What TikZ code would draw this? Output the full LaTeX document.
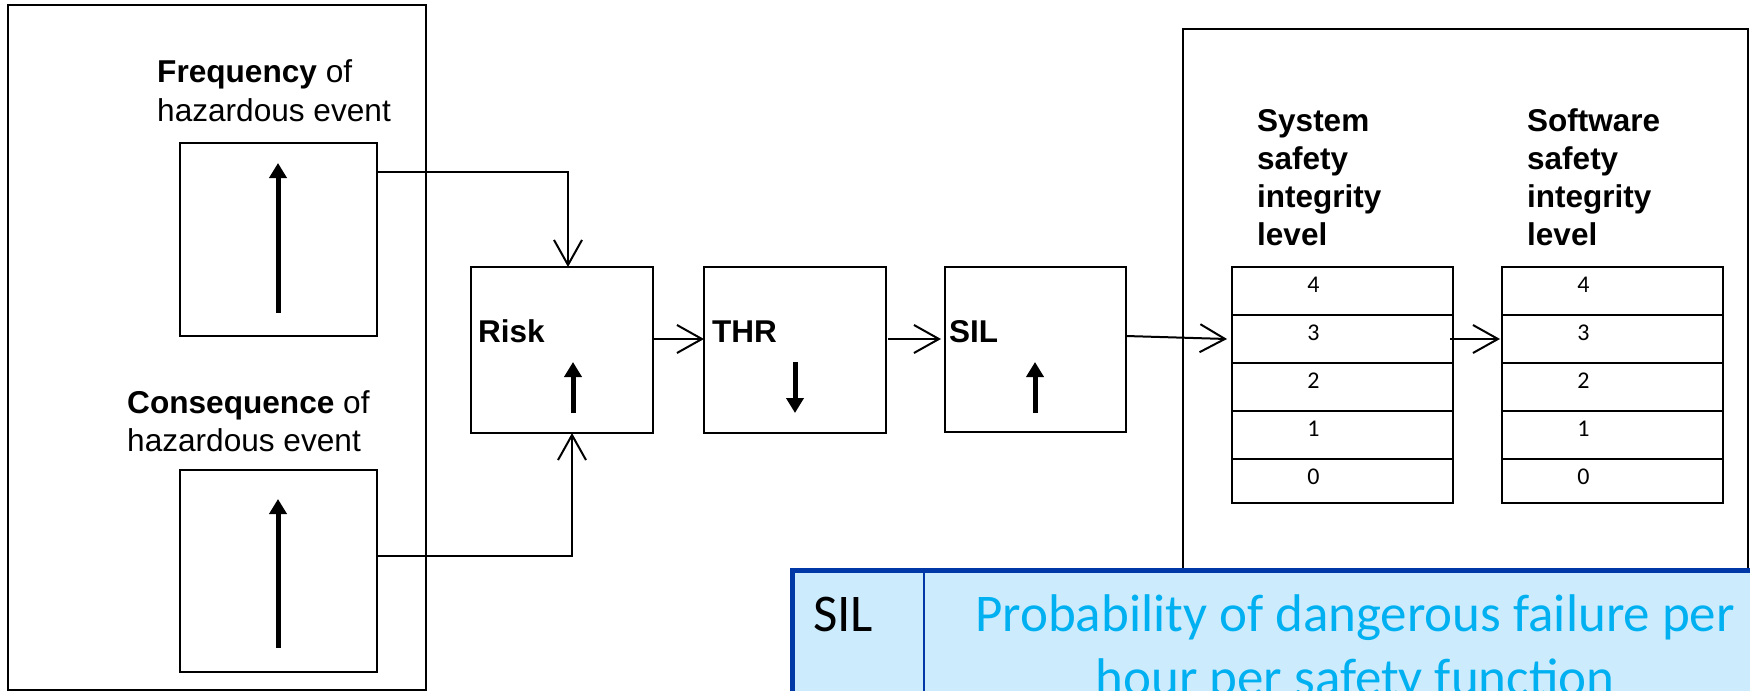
\documentclass[tikz,border=0pt]{standalone}
\usepackage{fontspec}
\setmainfont{Liberation Sans}
\newfontfamily\calib{Carlito}
\usetikzlibrary{arrows.meta,calc}
\definecolor{bdblue}{HTML}{0038A8}
\definecolor{fillblue}{HTML}{CCEBFD}
\definecolor{txtcyan}{HTML}{00B0F0}
\begin{document}
\begin{tikzpicture}[x=1bp,y=-1bp,
  box/.style={draw, line width=2.2bp, inner sep=0pt, outer sep=0pt, anchor=north west},
  conn/.style={line width=2bp, -{Straight Barb[length=25bp,width=28bp,line width=2bp]}},
  fat/.style={line width=5bp, -{Triangle[length=15bp,width=17bp]}},
  lab/.style={inner sep=0pt, anchor=base west, font=\fontsize{31.6bp}{38bp}\selectfont},
  blab/.style={inner sep=0pt, anchor=base west, font=\fontsize{31.5bp}{38bp}\selectfont\bfseries},
  num/.style={inner sep=0pt, anchor=base, font=\calib\fontsize{24bp}{28bp}\selectfont},
  big/.style={inner sep=0pt, anchor=base, font=\calib\fontsize{53bp}{64bp}\selectfont},
]
\useasboundingbox (0,0) rectangle (1750,691);
\clip (0,0) rectangle (1750,691);
\fill[white] (0,0) rectangle (1750,691);

% left group
\node[box, minimum width=418bp, minimum height=685bp] (left) at (8,5) {};
\node[box, minimum width=197bp, minimum height=193bp] (freq) at (180,143) {};
\node[box, minimum width=197bp, minimum height=202bp] (cons) at (180,470) {};
\node[lab] (freqA) at (157,83) {\textbf{Frequency} of};
\node[lab] (freqB) at (157,122) {hazardous event};
\node[lab] (consA) at (127,413) {\textbf{Consequence} of};
\node[lab] (consB) at (127,451) {hazardous event};
\draw[fat] ($(freq.south west)+(98,-23)$) -- ($(freq.north west)+(98,20)$);
\draw[fat] ($(cons.south west)+(98,-24)$) -- ($(cons.north west)+(98,29)$);

% chain
\node[box, minimum width=182bp, minimum height=166bp] (risk) at (471,267) {};
\node[box, minimum width=182bp, minimum height=166bp] (thr) at (704,267) {};
\node[box, minimum width=181bp, minimum height=165bp] (sil) at (945,267) {};
\node[blab] (riskT) at (478,342) {Risk};
\node[blab] (thrT) at (712,342) {THR};
\node[blab] (silT) at (949,342) {SIL};
\draw[fat] ($(risk.north west)+(102,146)$) -- ($(risk.north west)+(102,95)$);
\draw[fat] ($(thr.north west)+(91,95)$) -- ($(thr.north west)+(91,146)$);
\draw[fat] ($(sil.north west)+(90,146)$) -- ($(sil.north west)+(90,95)$);

% right group
\node[box, minimum width=565bp, minimum height=600bp] (right) at (1183,29) {};
\foreach \t/\x in {System/1257, Software/1527}{
  \node[blab] (\t1) at (\x,132) {\t};
  \node[blab] (\t2) at (\x,169.5) {safety};
  \node[blab] (\t3) at (\x,207) {integrity};
  \node[blab] (\t4) at (\x,245) {level};
}
\foreach \n/\y/\h in {4/267/48, 3/315/48, 2/363/48, 1/411/48, 0/459/44}{
  \node[box, minimum width=221bp, minimum height=\h bp] (s\n) at (1232,\y) {};
  \node[box, minimum width=221bp, minimum height=\h bp] (w\n) at (1502,\y) {};
  \node[num] (sn\n) at ($(s\n.north)+(-29,25)$) {\n};
  \node[num] (wn\n) at ($(w\n.north)+(-29,25)$) {\n};
}

% connectors
\draw[conn] ($(freq.north east)+(0,29)$) -| ($(risk.north west)+(97,0)$);
\draw[conn] ($(cons.north east)+(0,86)$) -| ($(risk.south west)+(101,0)$);
\draw[conn] ($(risk.north east)+(0,72)$) -- ($(thr.north west)+(0,72)$);
\draw[conn] ($(thr.north east)+(2,72)$) -- ($(sil.north west)+(-4,72)$);
\draw[conn] ($(sil.north east)+(0,69)$) -- ($(s3.west)+(-5,0)$);
\draw[conn] ($(s3.east)+(-3,0)$) -- ($(w3.west)+(-2,0)$);

% definition table
\node[draw=bdblue, fill=fillblue, line width=5bp, inner sep=0pt, outer sep=0pt,
      anchor=north west, minimum width=1010bp, minimum height=200bp] (tab) at (792.5,570.5) {};
\draw[bdblue, line width=2bp] ($(tab.north west)+(131.5,0)$) -- ($(tab.south west)+(131.5,0)$);
\node[big, anchor=base west] (silk) at (813,631) {SIL};
\node[big, text=txtcyan] (def1) at (1355,631) {Probability of dangerous failure per};
\node[big, text=txtcyan] (def2) at (1355,695) {hour per safety function};
\end{tikzpicture}
\end{document}
